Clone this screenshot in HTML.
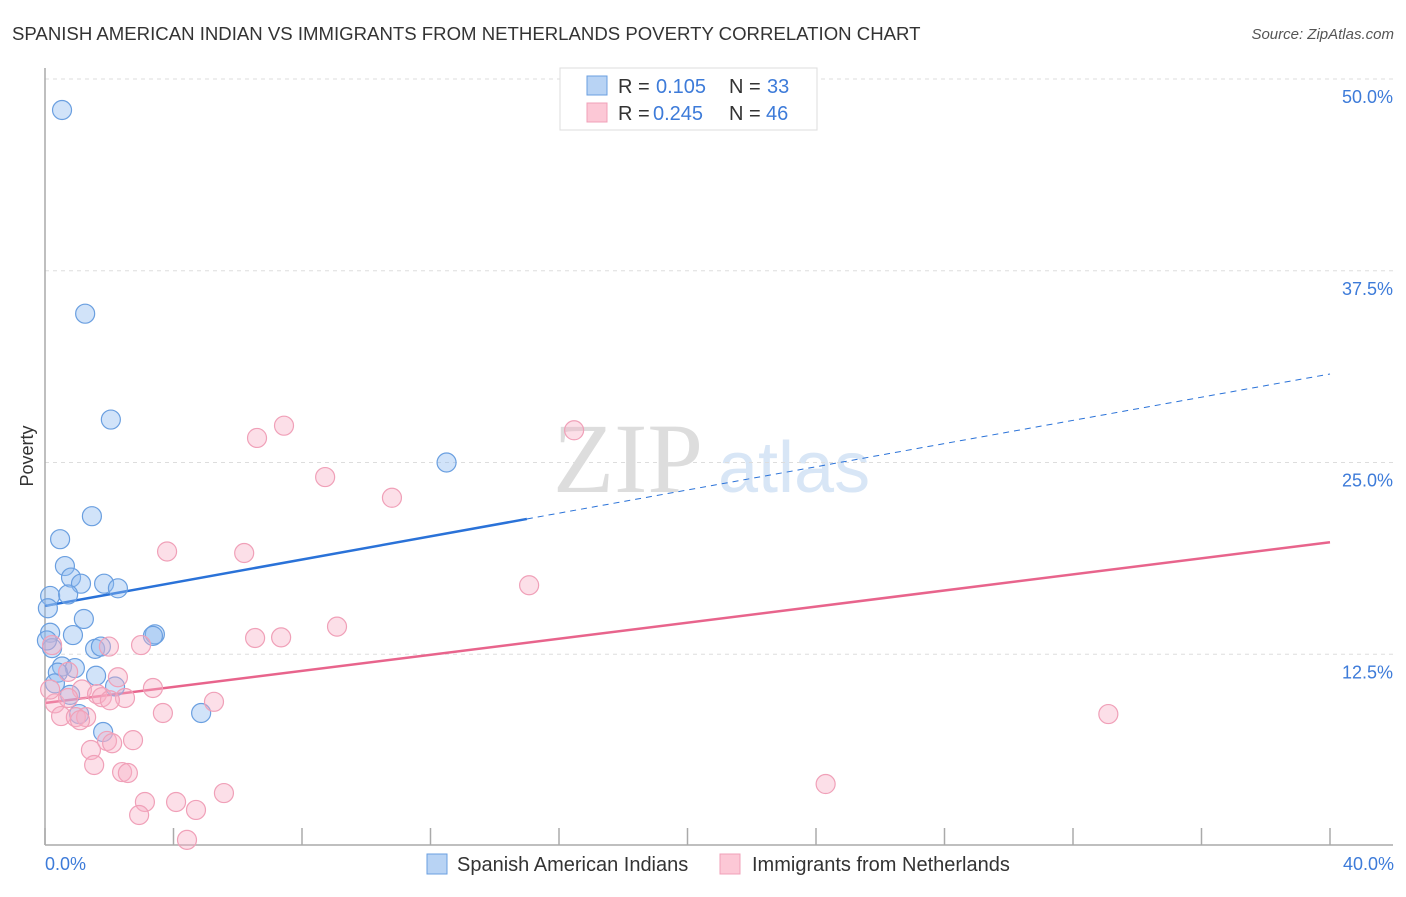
<!DOCTYPE html>
<html><head><meta charset="utf-8"><style>
body{margin:0;background:#fff;font-family:"Liberation Sans",sans-serif}
</style></head><body>
<svg width="1406" height="892" xmlns="http://www.w3.org/2000/svg" font-family="Liberation Sans, sans-serif">
<text x="12" y="40" font-size="18.6" fill="#333">SPANISH AMERICAN INDIAN VS IMMIGRANTS FROM NETHERLANDS POVERTY CORRELATION CHART</text>
<text x="1394" y="39" font-size="15" fill="#555" font-style="italic" text-anchor="end">Source: ZipAtlas.com</text>
<text x="553" y="492" font-size="100" fill="#ddd" font-family="Liberation Serif, serif">ZIP</text>
<text x="718" y="492" font-size="72" fill="#d8e6f6">atlas</text>
<g id="grid"></g>
<line x1="45" y1="68" x2="45" y2="845" stroke="#aaa" stroke-width="1.5"/>
<line x1="45" y1="845" x2="1393" y2="845" stroke="#aaa" stroke-width="1.5"/>
<g id="ticks"></g>
<text transform="translate(33,456) rotate(-90)" font-size="18" fill="#333" text-anchor="middle">Poverty</text>
<text x="45" y="870" font-size="18" fill="#3d7bd9">0.0%</text>
<text x="1394" y="870" font-size="18" fill="#3d7bd9" text-anchor="end">40.0%</text>
<g id="lines"></g>
<g id="points"></g>
<g>
<rect x="560" y="68" width="257" height="62" fill="#fff" stroke="#ddd"/>
<rect x="587" y="76" width="20" height="19" fill="#b8d3f4" stroke="#6a9fe0"/>
<rect x="587" y="103" width="20" height="19" fill="#fcc8d6" stroke="#f0a0b8"/>
<text x="618" y="93" font-size="20" fill="#333">R =</text>
<text x="656" y="93" font-size="20" fill="#3d7bd9">0.105</text>
<text x="729" y="93" font-size="20" fill="#333">N =</text>
<text x="767" y="93" font-size="20" fill="#3d7bd9">33</text>
<text x="618" y="120" font-size="20" fill="#333">R =</text>
<text x="653" y="120" font-size="20" fill="#3d7bd9">0.245</text>
<text x="729" y="120" font-size="20" fill="#333">N =</text>
<text x="766" y="120" font-size="20" fill="#3d7bd9">46</text>
</g>
<g>
<rect x="427" y="854" width="20" height="20" fill="#b8d3f4" stroke="#6a9fe0"/>
<text x="457" y="871" font-size="20" fill="#333">Spanish American Indians</text>
<rect x="720" y="854" width="20" height="20" fill="#fcc8d6" stroke="#f0a0b8"/>
<text x="752" y="871" font-size="20" fill="#333">Immigrants from Netherlands</text>
</g>
</svg>
<script>
const yTicks=[12.5,25,37.5,50];
const yTickLabels=["12.5%","25.0%","37.5%","50.0%"];
const xTicks=[0,4,8,12,16,20,24,28,32,36,40];
const blueX=[0.53,1.25,2.05,12.5,1.46,0.47,0.62,0.81,1.12,1.84,2.27,0.16,0.72,0.09,1.21,0.16,0.87,3.42,0.22,1.56,1.74,0.53,0.93,0.40,1.59,0.31,2.18,0.78,4.86,1.06,1.81,3.36,0.06];
const blueY=[47.98,34.7,27.8,25.0,21.5,20.0,18.25,17.5,17.1,17.1,16.8,16.3,16.4,15.5,14.8,13.9,13.75,13.8,12.9,12.85,13.0,11.7,11.6,11.3,11.1,10.6,10.4,9.85,8.67,8.6,7.43,13.7,13.4];
const pinkX=[6.6,7.44,16.47,8.72,10.8,3.8,6.2,15.07,9.09,6.54,7.35,2.99,1.99,0.22,2.27,0.72,1.15,3.36,1.62,1.77,2.49,5.26,0.31,3.67,0.5,0.96,1.28,1.09,33.1,2.74,1.93,2.09,1.43,1.53,2.4,2.58,24.3,5.57,3.11,4.08,4.7,2.93,4.42,0.72,0.16,2.02];
const pinkY=[26.6,27.4,27.1,24.05,22.7,19.2,19.1,17.0,14.3,13.56,13.6,13.1,13.0,13.1,11.0,11.35,10.2,10.3,9.9,9.7,9.65,9.4,9.3,8.67,8.47,8.4,8.4,8.2,8.6,6.9,6.85,6.7,6.26,5.28,4.82,4.76,4.04,3.45,2.87,2.87,2.35,2.02,0.4,9.65,10.2,9.5];
const blueTrend=[15.65,30.77];
const blueSolidEnd=15;
const pinkTrend=[9.32,19.8];
const NS="http://www.w3.org/2000/svg";
const sx=v=>45+v/40*1285;
const sy=v=>846-v/50*767;
function mk(tag,attrs,parent){const e=document.createElementNS(NS,tag);for(const k in attrs)e.setAttribute(k,attrs[k]);document.getElementById(parent).appendChild(e);return e;}
yTicks.forEach((t,i)=>{
  const l=mk('line',{x1:45,x2:1393,y1:sy(t),y2:sy(t),stroke:'#ddd','stroke-dasharray':'4,4'},'grid');
  
  
  const tx=mk('text',{x:1393,y:sy(t)+24,'font-size':18,fill:'#3d7bd9','text-anchor':'end'},'grid');
  tx.textContent=yTickLabels[i];
  
  
});
xTicks.forEach(t=>{
  const l=mk('line',{x1:sx(t),x2:sx(t),y1:828,y2:845,stroke:'#aaa','stroke-width':1.5},'ticks');
  
  
});
const by=x=>blueTrend[0]+(blueTrend[1]-blueTrend[0])*x/40;
let l1=mk('line',{x1:sx(0),y1:sy(by(0)),x2:sx(blueSolidEnd),y2:sy(by(blueSolidEnd)),stroke:'#2a72d8','stroke-width':2.5},'lines');


let l2=mk('line',{x1:sx(blueSolidEnd),y1:sy(by(blueSolidEnd)),x2:sx(40),y2:sy(by(40)),stroke:'#2a72d8','stroke-width':1,'stroke-dasharray':'6,5'},'lines');


let l3=mk('line',{x1:sx(0),y1:sy(pinkTrend[0]),x2:sx(40),y2:sy(pinkTrend[1]),stroke:'#e8648c','stroke-width':2.5},'lines');


blueX.forEach((x,i)=>{
  const c=mk('circle',{cx:sx(x),cy:sy(blueY[i]),r:9.5,fill:'rgba(140,185,240,0.4)',stroke:'#6a9fe0','stroke-width':1.2},'points');
  
  
});
pinkX.forEach((x,i)=>{
  const c=mk('circle',{cx:sx(x),cy:sy(pinkY[i]),r:9.5,fill:'rgba(248,175,198,0.4)',stroke:'#f0a0b8','stroke-width':1.2},'points');
  
  
});
</script>
</body></html>
